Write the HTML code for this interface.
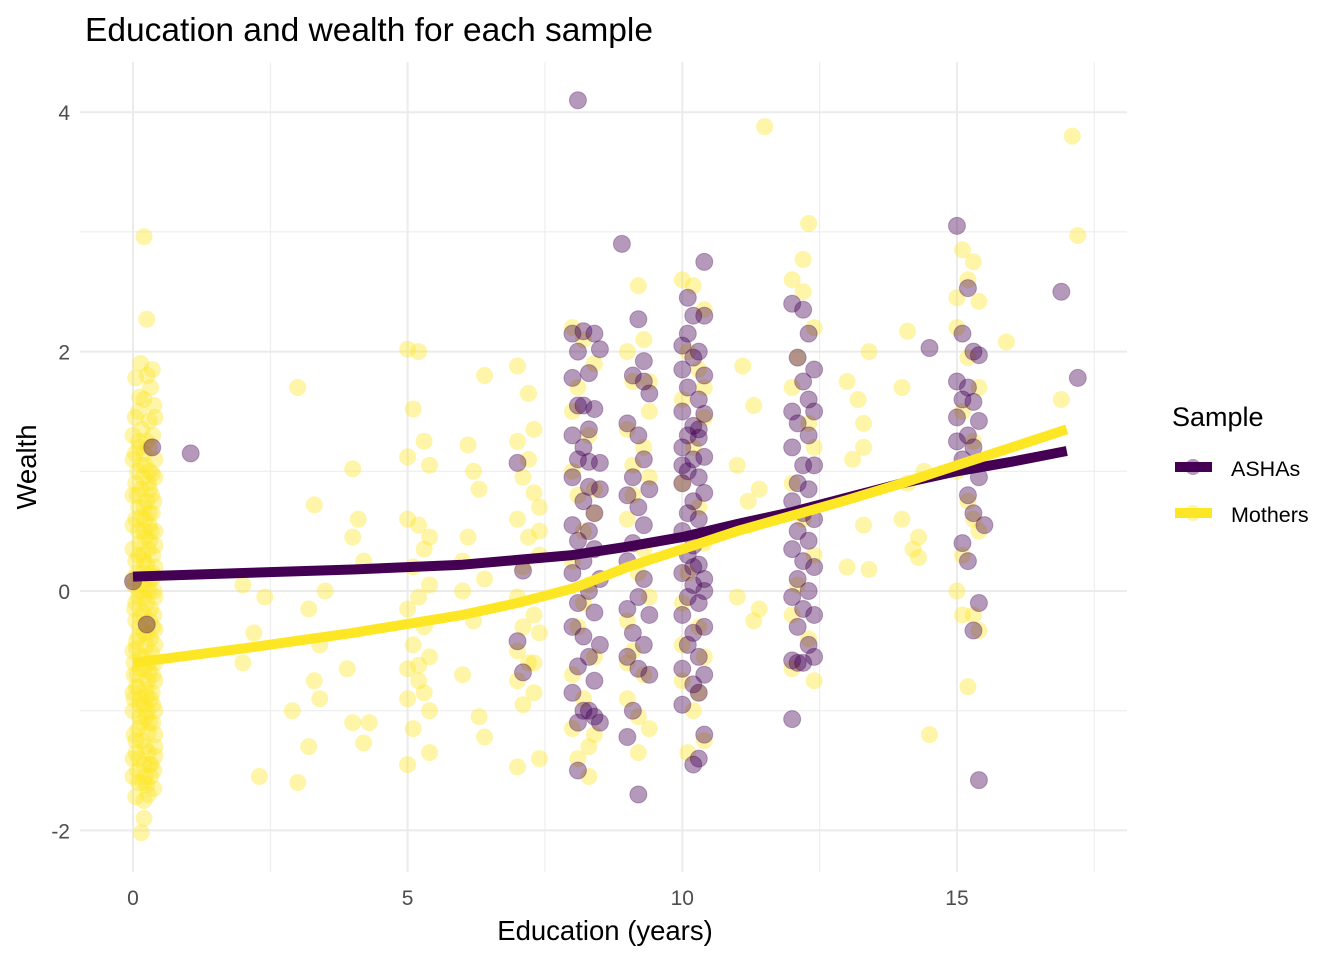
<!DOCTYPE html>
<html><head><meta charset="utf-8"><style>
body{margin:0;background:#fff}
svg{display:block;font-family:"Liberation Sans",Arial,sans-serif}
</style></head><body>
<svg id="chart" width="1344" height="960">
<text x="85" y="41" font-size="33.5" fill="#000">Education and wealth for each sample</text>
<g id="grid"></g>
<g id="pts"></g>
<g id="lines"></g>
<g id="axes"></g>
<text x="605" y="940" font-size="27.5" text-anchor="middle" fill="#000">Education (years)</text>
<text transform="translate(36,467) rotate(-90)" font-size="27.5" text-anchor="middle" fill="#000">Wealth</text>
<g>
<text x="1172" y="426" font-size="27" fill="#000">Sample</text>
<g>
<line x1="1175" y1="467" x2="1212" y2="467" stroke="#440154" stroke-width="10"/>
<circle cx="1193" cy="467" r="8" fill="#440154" fill-opacity="0.4"/>
<text x="1231" y="476" font-size="21.5" fill="#000">ASHAs</text></g>
<g>
<line x1="1175" y1="513" x2="1212" y2="513" stroke="#FDE725" stroke-width="10"/>
<circle cx="1193" cy="513" r="8" fill="#FDE725" fill-opacity="0.4"/>
<text x="1231" y="522" font-size="21.5" fill="#000">Mothers</text></g>
</g>
</svg>
<script>
const xTicks=[0,5,10,15];
const xMinor=[2.5,7.5,12.5,17.5];
const yTicks=[-2,0,2,4];
const yMinor=[-1,1,3];
const mothers=[[0.05,1.78],[0.2,1.6],[0.35,1.85],[0.1,1.5],[0.3,1.42],[0.0,1.3],[0.25,1.25],[0.4,1.1],[0.15,1.05],[0.05,0.9],[0.3,0.85],[0.38,0.75],[0.1,0.7],[0.22,0.6],[0.0,0.55],[0.33,0.5],[0.12,0.4],[0.28,0.35],[0.05,0.25],[0.4,0.2],[0.18,0.15],[0.02,0.05],[0.3,0.0],[0.1,-0.05],[0.25,-0.1],[0.38,-0.2],[0.05,-0.25],[0.2,-0.35],[0.32,-0.4],[0.0,-0.5],[0.15,-0.55],[0.4,-0.6],[0.08,-0.7],[0.27,-0.75],[0.35,-0.85],[0.02,-0.9],[0.2,-0.95],[0.12,-1.05],[0.3,-1.1],[0.4,-1.2],[0.05,-1.25],[0.22,-1.3],[0.1,-1.4],[0.33,-1.45],[0.0,-1.55],[0.18,-1.6],[0.28,-1.7],[0.05,-1.72],[0.2,-1.9],[0.15,-2.02],[0.25,2.27],[0.2,2.96],[0.38,1.55],[0.12,1.2],[0.35,0.98],[0.08,0.8],[0.18,0.3],[0.36,-0.3],[0.14,-0.65],[0.26,-1.0],[0.38,-1.5],[0.1,-1.15],[0.3,0.65],[0.03,-0.15],[0.22,0.45],[0.4,-1.0],[0.16,1.35],[0.34,0.1],[0.06,-0.42],[0.24,-0.82],[0.4,0.5],[0.2,-1.75],[0.32,1.7],[0.08,1.0],[0.4,-0.45],[0.28,-1.35],[0.12,0.0],[0.36,0.3],
[0.0,1.1],[0.1,1.25],[0.2,1.15],[0.3,1.0],[0.4,0.95],[0.0,0.8],[0.15,0.85],[0.25,0.75],[0.35,0.65],[0.05,0.6],[0.2,0.5],[0.3,0.42],[0.4,0.38],[0.1,0.3],[0.25,0.22],[0.35,0.15],[0.0,0.1],[0.15,0.05],[0.25,0.02],[0.4,-0.05],[0.05,-0.1],[0.18,-0.18],[0.3,-0.25],[0.4,-0.32],[0.1,-0.38],[0.24,-0.45],[0.34,-0.52],[0.02,-0.6],[0.2,-0.65],[0.3,-0.68],[0.4,-0.75],[0.1,-0.8],[0.25,-0.88],[0.36,-0.95],[0.0,-1.0],[0.16,-1.1],[0.28,-1.18],[0.4,-1.3],[0.06,-1.35],[0.2,-1.45],[0.32,-1.55],[0.1,-1.6],[0.25,-1.62],[0.38,-1.65],[0.02,-1.2],[0.14,-0.9],[0.22,-0.55],[0.32,-0.15],[0.08,0.15],[0.2,0.7],[0.3,1.2],[0.12,1.62],[0.26,1.8],[0.04,1.45],[0.36,1.3],[0.18,0.95],[0.0,0.35],[0.38,0.0],[0.12,-0.3],[0.28,-0.6],[0.06,-0.8],[0.36,-1.1],[0.16,-1.25],[0.3,-1.45],[0.22,-1.55],[0.0,-1.4],[0.14,1.9],[0.3,0.55],[0.18,-0.05],[0.02,-0.7],[0.24,-1.05],[0.4,-1.38],[0.1,0.5],[0.28,0.9],[0.36,-0.7],[0.06,-0.48],[0.2,0.25],[0.34,0.8],[0.12,-0.95],[0.26,-0.35],[0.4,1.45],[0.0,-0.85],[0.16,0.62],[0.32,-0.9],[0.08,-1.5],[0.22,1.05],[0.38,0.12],[0.14,-0.22],[0.28,0.1],[0.04,1.15],
[2.0,0.05],[2.2,-0.35],[2.4,-0.05],[2.3,-1.55],[2.0,-0.6],[3.0,1.7],[3.0,-1.6],[2.9,-1.0],[3.2,-0.15],[3.3,0.72],[3.4,-0.9],[3.3,-0.75],[3.5,0.0],[3.4,-0.45],[3.2,-1.3],[4.0,1.02],[4.1,0.6],[4.0,0.45],[4.2,0.25],[3.9,-0.65],[4.0,-1.1],[4.2,-1.27],[4.3,-1.1],[5.0,2.02],[5.2,2.0],[5.1,1.52],[5.0,1.12],[5.3,1.25],[5.4,1.05],[5.0,0.6],[5.2,0.55],[5.4,0.45],[5.3,0.35],[5.1,0.2],[5.4,0.05],[5.2,-0.05],[5.0,-0.15],[5.3,-0.3],[5.1,-0.45],[5.4,-0.55],[5.0,-0.65],[5.2,-0.75],[5.3,-0.85],[5.0,-0.9],[5.4,-1.0],[5.1,-1.15],[5.0,-1.45],[5.4,-1.35],[5.2,-0.62],[6.0,0.25],[6.1,0.45],[6.0,0.0],[6.2,1.0],[6.3,0.85],[6.1,1.22],[6.4,1.8],[6.2,-0.25],[6.0,-0.7],[6.3,-1.05],[6.4,-1.22],[6.4,0.1],[7.0,1.88],[7.2,1.65],[7.0,1.25],[7.3,1.35],[7.1,0.95],[7.3,0.82],[7.4,0.7],[7.0,0.6],[7.2,0.45],[7.4,0.3],[7.1,0.2],[7.0,-0.05],[7.3,-0.2],[7.4,-0.35],[7.0,-0.5],[7.2,-0.6],[7.0,-0.75],[7.3,-0.85],[7.1,-0.95],[7.0,-1.47],[7.4,-1.4],[7.3,-0.6],[7.2,1.1],[7.4,0.5],[7.1,-0.3],
[8.0,2.2],[8.2,2.1],[8.4,1.9],[8.1,1.7],[8.3,1.3],[8.0,1.0],[8.4,0.85],[8.2,0.5],[8.0,0.25],[8.3,0.05],[8.1,-0.3],[8.4,-0.55],[8.0,-0.7],[8.2,-0.9],[8.4,-1.2],[8.1,-1.4],[8.3,-1.55],[8.0,-1.15],[8.4,0.65],[8.2,-0.1],[8.0,1.5],[8.3,-1.3],[8.1,0.8],
[9.0,2.0],[9.2,2.55],[9.3,2.1],[9.1,1.75],[9.4,1.5],[9.0,1.35],[9.3,1.2],[9.4,0.95],[9.1,0.8],[9.0,0.6],[9.3,0.35],[9.2,0.15],[9.4,-0.05],[9.0,-0.25],[9.1,-0.5],[9.3,-0.7],[9.0,-0.9],[9.2,-1.05],[9.4,-1.15],[9.2,-1.35],[9.1,1.05],[9.4,1.75],[9.0,-0.6],
[10.0,2.6],[10.2,2.55],[10.4,2.35],[10.1,2.0],[10.3,1.85],[10.0,1.6],[10.4,1.45],[10.2,1.2],[10.0,0.9],[10.3,0.7],[10.4,0.4],[10.1,0.15],[10.0,-0.1],[10.3,-0.3],[10.4,-0.55],[10.0,-0.75],[10.2,-1.0],[10.4,-1.25],[10.1,-1.35],[10.3,-0.85],[10.0,-0.45],[10.4,1.7],
[11.0,1.05],[11.1,1.88],[11.3,1.55],[11.2,0.75],[11.4,0.85],[11.0,-0.05],[11.3,-0.25],[11.4,-0.15],[11.5,3.88],[11.2,0.55],
[12.0,2.6],[12.2,2.77],[12.4,2.2],[12.3,3.07],[12.1,1.95],[12.0,1.7],[12.3,1.4],[12.4,1.2],[12.0,0.9],[12.2,0.6],[12.4,0.3],[12.1,0.05],[12.0,-0.2],[12.3,-0.4],[12.4,-0.75],[12.0,-0.65],[12.2,2.5],
[13.0,1.75],[13.2,1.6],[13.4,2.0],[13.3,1.4],[13.1,1.1],[13.3,1.2],[13.3,0.55],[13.0,0.2],[13.4,0.18],[14.0,0.6],[14.1,2.17],[14.0,1.7],[14.2,0.35],[14.3,0.45],[14.4,1.0],[14.3,0.28],[14.5,-1.2],[14.1,0.9],
[15.0,2.45],[15.1,2.85],[15.3,2.75],[15.2,2.6],[15.4,2.42],[15.0,2.2],[15.2,1.95],[15.4,1.7],[15.1,1.5],[15.3,1.25],[15.0,1.0],[15.2,0.75],[15.4,0.5],[15.1,0.3],[15.0,0.0],[15.3,-0.2],[15.4,-0.33],[15.2,-0.8],[15.1,-0.2],[15.3,0.6],
[15.9,2.08],[16.9,1.6],[17.1,3.8],[17.2,2.97]];
const ashas=[[0.0,0.08],[0.25,-0.28],[0.35,1.2],[1.05,1.15],[7.0,1.07],[7.1,0.17],[7.0,-0.42],[7.1,-0.68],
[8.0,2.15],[8.2,2.17],[8.4,2.15],[8.1,2.0],[8.5,2.02],[8.3,1.82],[8.0,1.78],[8.1,1.55],[8.2,1.55],[8.4,1.52],[8.3,1.35],[8.0,1.3],[8.2,1.2],[8.1,1.1],[8.3,1.08],[8.5,1.07],[8.0,0.95],[8.3,0.87],[8.5,0.85],[8.2,0.75],[8.4,0.65],[8.0,0.55],[8.3,0.5],[8.1,0.42],[8.4,0.35],[8.2,0.25],[8.0,0.15],[8.5,0.1],[8.3,0.0],[8.1,-0.1],[8.4,-0.18],[8.0,-0.3],[8.2,-0.38],[8.5,-0.45],[8.3,-0.55],[8.1,-0.63],[8.4,-0.75],[8.0,-0.85],[8.2,-1.0],[8.4,-1.05],[8.1,-1.1],[8.3,-1.0],[8.5,-1.1],[8.1,-1.5],[8.1,4.1],
[8.9,2.9],[9.2,2.27],[9.3,1.92],[9.1,1.8],[9.4,1.65],[9.3,1.75],[9.0,1.4],[9.2,1.3],[9.3,1.1],[9.1,0.95],[9.4,0.85],[9.0,0.8],[9.2,0.7],[9.3,0.55],[9.1,0.4],[9.0,0.25],[9.3,0.1],[9.2,-0.05],[9.0,-0.15],[9.4,-0.2],[9.1,-0.35],[9.3,-0.45],[9.0,-0.55],[9.2,-0.65],[9.4,-0.7],[9.1,-1.0],[9.0,-1.22],[9.2,-1.7],
[10.0,2.05],[10.1,2.45],[10.4,2.75],[10.2,2.3],[10.4,2.3],[10.1,2.15],[10.3,2.0],[10.0,1.85],[10.2,1.95],[10.4,1.8],[10.1,1.7],[10.3,1.6],[10.0,1.5],[10.4,1.48],[10.2,1.38],[10.1,1.3],[10.3,1.28],[10.0,1.2],[10.4,1.12],[10.2,1.1],[10.1,1.0],[10.3,0.95],[10.0,0.9],[10.4,0.82],[10.2,0.75],[10.1,0.65],[10.3,0.6],[10.0,0.5],[10.4,0.45],[10.2,0.38],[10.1,0.3],[10.3,0.22],[10.0,0.15],[10.4,0.1],[10.2,0.05],[10.1,-0.05],[10.3,-0.1],[10.0,-0.2],[10.4,-0.3],[10.2,-0.35],[10.1,-0.45],[10.3,-0.55],[10.0,-0.65],[10.4,-0.7],[10.2,-0.78],[10.3,-0.85],[10.0,-0.95],[10.4,-1.2],[10.3,-1.4],[10.2,-1.45],[10.3,1.35],[10.2,0.2],[10.0,1.05],[10.4,0.0],
[12.0,2.4],[12.2,2.35],[12.3,2.15],[12.1,1.95],[12.4,1.85],[12.2,1.75],[12.0,1.5],[12.3,1.6],[12.4,1.5],[12.1,1.4],[12.3,1.3],[12.0,1.2],[12.2,1.05],[12.4,1.05],[12.1,0.9],[12.3,0.85],[12.0,0.75],[12.2,0.65],[12.4,0.6],[12.1,0.5],[12.3,0.42],[12.0,0.35],[12.2,0.25],[12.4,0.2],[12.1,0.1],[12.3,0.0],[12.0,-0.05],[12.2,-0.15],[12.4,-0.2],[12.1,-0.3],[12.3,-0.45],[12.0,-0.58],[12.2,-0.6],[12.4,-0.55],[12.1,-0.6],[12.0,-1.07],
[15.0,3.05],[15.2,2.53],[15.1,2.15],[15.3,2.0],[15.4,1.97],[15.0,1.75],[15.2,1.7],[15.1,1.6],[15.3,1.58],[15.0,1.45],[15.4,1.42],[15.2,1.3],[15.0,1.25],[15.3,1.2],[15.1,1.1],[15.4,0.95],[15.2,0.8],[15.3,0.65],[15.5,0.55],[15.1,0.4],[15.2,0.25],[15.3,-0.33],[15.4,-0.1],[15.4,-1.58],
[14.5,2.03],[16.9,2.5],[17.2,1.78]];
const smoothX=[0,2,4,6,7,8,9,10,11,12,13,14,15,16,17];
const ashaSmooth=[0.12,0.15,0.18,0.22,0.26,0.3,0.37,0.45,0.56,0.66,0.78,0.9,1.0,1.08,1.17];
const motherSmooth=[-0.6,-0.48,-0.35,-0.2,-0.1,0.02,0.2,0.35,0.5,0.63,0.76,0.9,1.05,1.2,1.35];

const NS="http://www.w3.org/2000/svg";
const X=v=>133+v*54.93;
const Y=v=>591-v*119.7;
const L=80,R=1127,T=62,B=872;
function mk(tag,attrs,parent){const e=document.createElementNS(NS,tag);for(const k in attrs)e.setAttribute(k,attrs[k]);parent.appendChild(e);return e;}
const grid=document.getElementById('grid'),pts=document.getElementById('pts'),lines=document.getElementById('lines'),axes=document.getElementById('axes');
xMinor.forEach(v=>{const e=mk('line',{x1:X(v),x2:X(v),y1:T,y2:B,stroke:'#ebebeb','stroke-width':1},grid);

});
yMinor.forEach(v=>{const e=mk('line',{x1:L,x2:R,y1:Y(v),y2:Y(v),stroke:'#ebebeb','stroke-width':1},grid);

});
xTicks.forEach(v=>{const e=mk('line',{x1:X(v),x2:X(v),y1:T,y2:B,stroke:'#ebebeb','stroke-width':2},grid);


const t=mk('text',{x:X(v),y:905,'font-size':21,'text-anchor':'middle',fill:'#4d4d4d'},axes);t.textContent=v;

});
yTicks.forEach(v=>{const e=mk('line',{x1:L,x2:R,y1:Y(v),y2:Y(v),stroke:'#ebebeb','stroke-width':2},grid);


const t=mk('text',{x:70,y:Y(v)+8,'font-size':21,'text-anchor':'end',fill:'#4d4d4d'},axes);t.textContent=v;

});
mothers.forEach(p=>{const c=mk('circle',{cx:X(p[0]),cy:Y(p[1]),r:8.5,fill:'#FDE725','fill-opacity':0.4},pts);

});
ashas.forEach(p=>{const c=mk('circle',{cx:X(p[0]),cy:Y(p[1]),r:8.5,fill:'#440154','fill-opacity':0.4,stroke:'#440154','stroke-opacity':0.3},pts);

});
function path(arr){return smoothX.map((x,i)=>(i?'L':'M')+X(x).toFixed(1)+','+Y(arr[i]).toFixed(1)).join(' ');}
const la=mk('path',{d:path(ashaSmooth),stroke:'#440154','stroke-width':10,fill:'none','stroke-linejoin':'round'},lines);


const lm=mk('path',{d:path(motherSmooth),stroke:'#FDE725','stroke-width':10,fill:'none','stroke-linejoin':'round'},lines);


</script>
</body></html>
